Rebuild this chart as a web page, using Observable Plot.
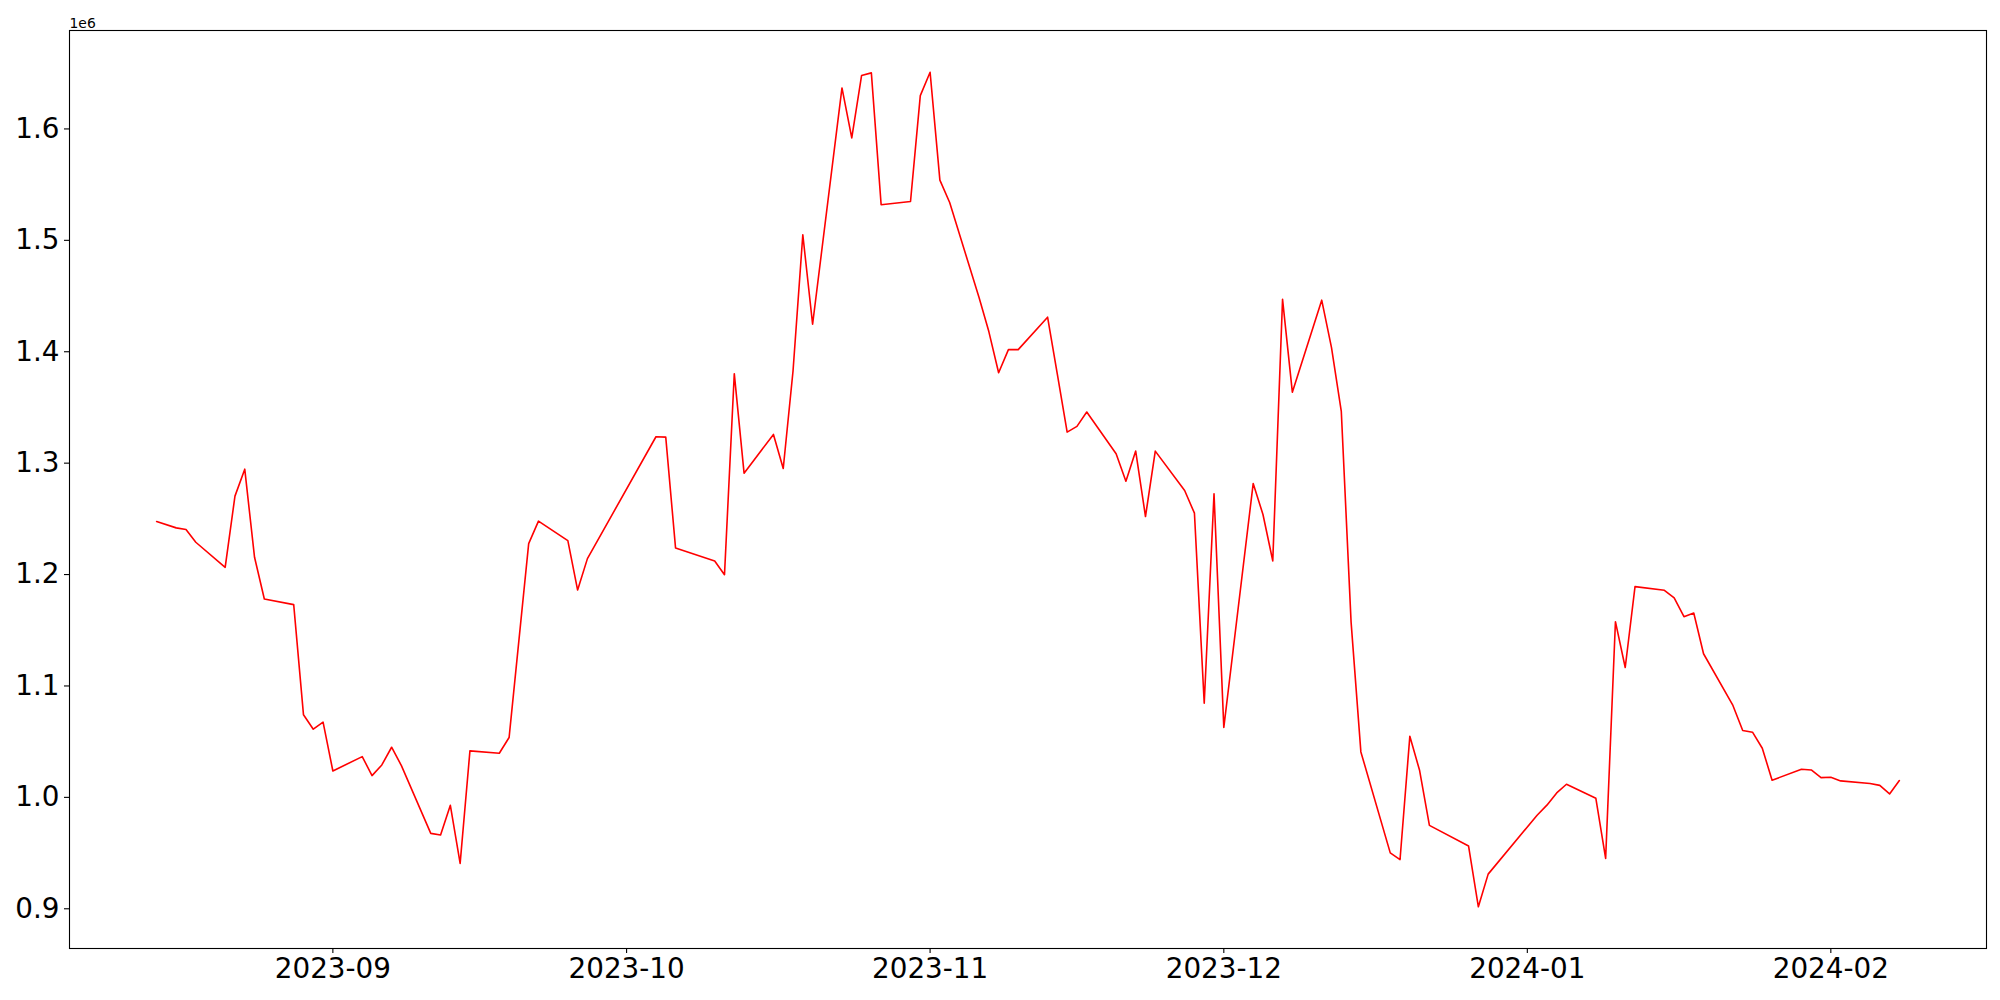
<!DOCTYPE html>
<html><head><meta charset="utf-8">
<script src="https://cdn.jsdelivr.net/npm/d3@7"></script>
<script src="https://cdn.jsdelivr.net/npm/@observablehq/plot@0.6"></script>
<style>body{margin:0;background:#fff}</style>
</head><body><div id="chart"></div>
<script>
const dates = [
  "2023-08-14","2023-08-16","2023-08-17","2023-08-18","2023-08-21","2023-08-22","2023-08-23","2023-08-24","2023-08-25",
  "2023-08-28","2023-08-29","2023-08-30","2023-08-31","2023-09-01",
  "2023-09-04","2023-09-05","2023-09-06","2023-09-07","2023-09-08",
  "2023-09-11","2023-09-12","2023-09-13","2023-09-14","2023-09-15",
  "2023-09-18","2023-09-19","2023-09-21","2023-09-22",
  "2023-09-25","2023-09-26","2023-09-27",
  "2023-10-04","2023-10-05","2023-10-06",
  "2023-10-10","2023-10-11","2023-10-12","2023-10-13",
  "2023-10-16","2023-10-17","2023-10-18","2023-10-19","2023-10-20",
  "2023-10-23","2023-10-24","2023-10-25","2023-10-26","2023-10-27",
  "2023-10-30","2023-10-31","2023-11-01","2023-11-02","2023-11-03",
  "2023-11-06","2023-11-07","2023-11-08","2023-11-09","2023-11-10",
  "2023-11-13","2023-11-14","2023-11-15","2023-11-16","2023-11-17",
  "2023-11-20","2023-11-21","2023-11-22","2023-11-23","2023-11-24",
  "2023-11-27","2023-11-28","2023-11-29","2023-11-30","2023-12-01",
  "2023-12-04","2023-12-05","2023-12-06","2023-12-07","2023-12-08",
  "2023-12-11","2023-12-12","2023-12-13","2023-12-14","2023-12-15",
  "2023-12-18","2023-12-19","2023-12-20","2023-12-21","2023-12-22",
  "2023-12-26","2023-12-27","2023-12-28",
  "2024-01-02","2024-01-03","2024-01-04","2024-01-05",
  "2024-01-08","2024-01-09","2024-01-10","2024-01-11","2024-01-12",
  "2024-01-15","2024-01-16","2024-01-17","2024-01-18","2024-01-19",
  "2024-01-22","2024-01-23","2024-01-24","2024-01-25","2024-01-26",
  "2024-01-29","2024-01-30","2024-01-31","2024-02-01","2024-02-02",
  "2024-02-05","2024-02-06","2024-02-07","2024-02-08"
];
const values = [
  1247600,1241900,1240400,1229000,1206500,1270400,1294600,1215500,1178100,
  1173000,1074100,1061200,1067500,1023700,
  1036600,1019500,1029100,1045000,1028500,
  967700,966200,992900,940700,1041700,
  1039600,1053700,1227800,1247900,
  1230500,1186100,1214300,
  1323700,1323400,1223900,
  1212200,1199900,1380300,1291000,
  1325800,1295200,1382700,1505000,1424700,
  1636800,1591900,1647900,1650300,1531900,
  1534900,1629900,1650900,1554100,1534000,
  1448600,1418100,1381200,1401900,1401900,
  1431000,1379700,1327900,1333000,1345900,
  1308400,1283800,1310800,1252100,1310800,
  1275500,1255100,1084500,1272500,1062700,
  1281700,1253900,1212300,1447000,1363700,
  1446300,1403700,1346400,1157300,1040800,
  950200,944200,1054800,1024100,974900,
  956300,901800,931100,
  984000,993000,1004000,1011800,
  999200,945200,1157700,1116600,1189200,
  1185900,1179000,1162200,1165500,1128900,
  1082500,1060000,1058500,1044100,1015400,
  1025200,1024600,1017700,1018000,1014800,
  1012500,1010800,1003100,1015100
];
const yTicks = [900000,1000000,1100000,1200000,1300000,1400000,1500000,1600000];
const xTicks = ["2023-09-01","2023-10-01","2023-11-01","2023-12-01","2024-01-01","2024-02-01"];
const offsetLabel = "1e6";

const parse = s => new Date(s + "T00:00:00Z");
const data = dates.map((d, i) => ({date: parse(d), value: values[i]}));
const [x0, x1] = d3.extent(data, d => d.date);
const xpad = (x1 - x0) * 0.05;
const [y0, y1] = d3.extent(values);
const ypad = (y1 - y0) * 0.05;

const chart = Plot.plot({
  width: 2000, height: 1000,
  marginLeft: 69, marginRight: 14, marginTop: 30, marginBottom: 52,
  style: {fontFamily: "DejaVu Sans", fontSize: "27.8px", color: "black", background: "white", overflow: "visible"},
  x: {type: "utc", domain: [new Date(+x0 - xpad), new Date(+x1 + xpad)]},
  y: {domain: [y0 - ypad, y1 + ypad]},
  marks: [
    Plot.axisX({ticks: xTicks.map(parse), tickFormat: d3.utcFormat("%Y-%m"), tickSize: 5, tickPadding: 5, strokeWidth: 1.1, label: null, fontSize: 27.8}),
    Plot.axisY({ticks: yTicks, tickFormat: d => (d / 1e6).toFixed(1), tickSize: 5, tickPadding: 5, strokeWidth: 1.1, label: null, fontSize: 27.8}),
    Plot.line(data, {x: "date", y: "value", stroke: "red", strokeWidth: 1.6}),
    Plot.frame({stroke: "black", strokeWidth: 1.1}),
    Plot.text([offsetLabel], {frameAnchor: "top-left", text: d => d, lineAnchor: "bottom", textAnchor: "start", dy: -3, fontSize: 13.9})
  ]
});
document.getElementById("chart").appendChild(chart);
</script>
</body></html>
